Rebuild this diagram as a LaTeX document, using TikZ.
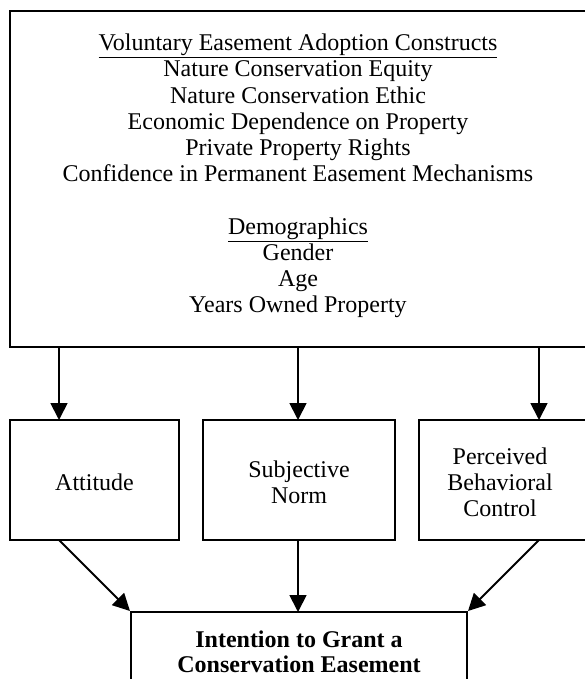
\documentclass[tikz,border=0pt]{standalone}
\usepackage{fontspec}
\setmainfont{Liberation Serif}
\usetikzlibrary{arrows.meta}
\tikzset{
  boxline/.style={draw=black, line width=1.8pt},
  conn/.style={line width=1.8pt, -{Triangle[width=17pt,length=17pt]}},
  txt/.style={align=center, font=\fontsize{24}{26.2}\selectfont, inner sep=0pt}
}
\begin{document}
\begin{tikzpicture}[x=1pt,y=-1pt]
\useasboundingbox (0,0) rectangle (584,679);
% boxes
\draw[boxline] (590,11) -- (10,11) -- (10,347) -- (590,347);
\draw[boxline] (10,420) rectangle (179,540);
\draw[boxline] (203,420) rectangle (395,540);
\draw[boxline] (590,420) -- (419,420) -- (419,540) -- (590,540);
\draw[boxline] (131,690) -- (131,612) -- (467,612) -- (467,690);
% coordinates
\coordinate (t1) at (59,347);
\coordinate (t2) at (298,347);
\coordinate (t3) at (539,347);
\coordinate (a1) at (59,420);
\coordinate (a2) at (298,420);
\coordinate (a3) at (539,420);
\coordinate (b1) at (59,540);
\coordinate (b2) at (298,540);
\coordinate (b3) at (539,540);
\coordinate (c1) at (130,611);
\coordinate (c2) at (298,612);
\coordinate (c3) at (468,611);
% texts
\node[txt] (top) at (298,176) {\underline{Voluntary Easement Adoption Constructs}\\
Nature Conservation Equity\\
Nature Conservation Ethic\\
Economic Dependence on Property\\
Private Property Rights\\
Confidence in Permanent Easement Mechanisms\\[26.2pt]
\underline{Demographics}\\
Gender\\
Age\\
Years Owned Property};
\node[txt] (att) at (94.5,482) {Attitude};
\node[txt] (sn) at (299,482) {Subjective\\Norm};
\node[txt] (pbc) at (500,482) {Perceived\\Behavioral\\Control};
\node[txt, font=\fontsize{24}{24.5}\selectfont\bfseries] (int) at (299,652) {Intention to Grant a\\Conservation Easement};
% connectors
\draw[conn] (t1) -- (a1);
\draw[conn] (t2) -- (a2);
\draw[conn] (t3) -- (a3);
\draw[conn] (b1) -- (c1);
\draw[conn] (b2) -- (c2);
\draw[conn] (b3) -- (c3);
\end{tikzpicture}
\end{document}
